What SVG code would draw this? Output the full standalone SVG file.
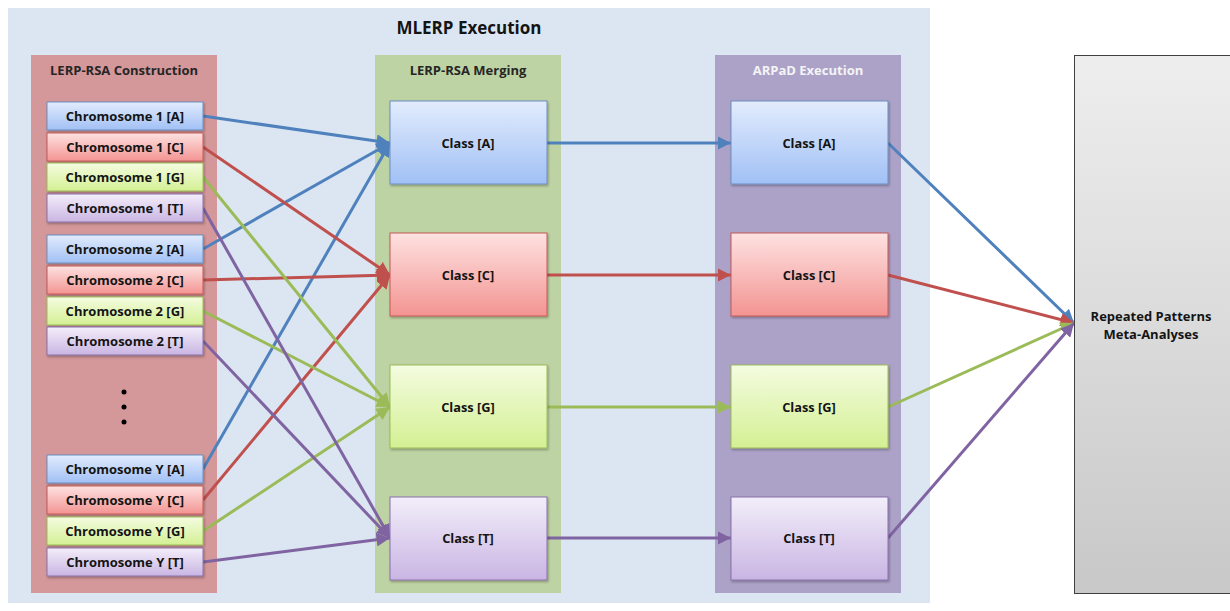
<svg xmlns="http://www.w3.org/2000/svg" width="1230" height="611" viewBox="0 0 1230 611">
  <style>
    text { font-family: "Open Sans", "Liberation Sans", sans-serif; font-weight: bold; text-anchor: middle; dominant-baseline: central; }
    .title { font-size: 17px; fill: #141414; }
    .plabel { font-size: 13px; fill: #262626; }
    .plabel-w { font-size: 13px; fill: #f4f4f4; }
    .chr { font-size: 13px; fill: #141414; }
    .cls { font-size: 12.8px; fill: #141414; }
    .out { font-size: 13px; fill: #141414; }
    .box { stroke-width: 1; filter: url(#shadow); }
    .lA { stroke: #4f81bd; }
    .lC { stroke: #c0504d; }
    .lG { stroke: #9bbb59; }
    .lT { stroke: #8064a2; }
    #connectors line { stroke-width: 3; fill: none; }
  </style>
  <defs>
    <linearGradient id="gA" x1="0" y1="0" x2="0" y2="1"><stop offset="0" stop-color="#e2ecfd"/><stop offset="1" stop-color="#a1c0f5"/></linearGradient>
    <linearGradient id="gC" x1="0" y1="0" x2="0" y2="1"><stop offset="0" stop-color="#fde2e1"/><stop offset="1" stop-color="#f39492"/></linearGradient>
    <linearGradient id="gG" x1="0" y1="0" x2="0" y2="1"><stop offset="0" stop-color="#f4fce0"/><stop offset="1" stop-color="#d4f094"/></linearGradient>
    <linearGradient id="gT" x1="0" y1="0" x2="0" y2="1"><stop offset="0" stop-color="#f3eefa"/><stop offset="1" stop-color="#c9b5e3"/></linearGradient>
    <linearGradient id="gOut" x1="0" y1="0" x2="0" y2="1"><stop offset="0" stop-color="#eeeeee"/><stop offset="1" stop-color="#c8c8c8"/></linearGradient>
    <filter id="shadow" x="-10%" y="-10%" width="125%" height="140%">
      <feDropShadow dx="1" dy="1.5" stdDeviation="1" flood-color="#000" flood-opacity="0.3"/>
    </filter>
    <marker id="mA" viewBox="0 0 10 10" refX="10" refY="5" markerWidth="4.5" markerHeight="4.5" orient="auto" markerUnits="strokeWidth"><path d="M0,0 L10,5 L0,10 z" fill="#4f81bd"/></marker>
    <marker id="mC" viewBox="0 0 10 10" refX="10" refY="5" markerWidth="4.5" markerHeight="4.5" orient="auto" markerUnits="strokeWidth"><path d="M0,0 L10,5 L0,10 z" fill="#c0504d"/></marker>
    <marker id="mG" viewBox="0 0 10 10" refX="10" refY="5" markerWidth="4.5" markerHeight="4.5" orient="auto" markerUnits="strokeWidth"><path d="M0,0 L10,5 L0,10 z" fill="#9bbb59"/></marker>
    <marker id="mT" viewBox="0 0 10 10" refX="10" refY="5" markerWidth="4.5" markerHeight="4.5" orient="auto" markerUnits="strokeWidth"><path d="M0,0 L10,5 L0,10 z" fill="#8064a2"/></marker>
  </defs>

  <rect width="1230" height="611" fill="#ffffff"/>

  <!-- outer frame -->
  <g id="mlerp">
    <rect x="8" y="8" width="922" height="595" fill="#dce6f2"/>
    <text class="title" x="469" y="27">MLERP Execution</text>
  </g>

  <!-- stage panels -->
  <g id="panel-construction">
    <rect x="31" y="55" width="186" height="538" fill="#d4979a"/>
    <text class="plabel" x="124" y="70">LERP-RSA Construction</text>
  </g>
  <g id="panel-merging">
    <rect x="375" y="55" width="186" height="538" fill="#bed3a3"/>
    <text class="plabel" x="468" y="70">LERP-RSA Merging</text>
  </g>
  <g id="panel-arpad">
    <rect x="715" y="55" width="186" height="538" fill="#aca2c8"/>
    <text class="plabel-w" x="808" y="70">ARPaD Execution</text>
  </g>

  <!-- connectors -->
  <g id="connectors">
    <!-- chromosome to class -->
    <line class="lA" x1="203" y1="116" x2="390" y2="143" marker-end="url(#mA)"/>
    <line class="lA" x1="203" y1="249" x2="390" y2="143" marker-end="url(#mA)"/>
    <line class="lA" x1="203" y1="469" x2="390" y2="143" marker-end="url(#mA)"/>
    <line class="lC" x1="203" y1="147" x2="390" y2="275" marker-end="url(#mC)"/>
    <line class="lC" x1="203" y1="280" x2="390" y2="275" marker-end="url(#mC)"/>
    <line class="lC" x1="203" y1="500" x2="390" y2="275" marker-end="url(#mC)"/>
    <line class="lG" x1="203" y1="177" x2="390" y2="407" marker-end="url(#mG)"/>
    <line class="lG" x1="203" y1="311" x2="390" y2="407" marker-end="url(#mG)"/>
    <line class="lG" x1="203" y1="531" x2="390" y2="407" marker-end="url(#mG)"/>
    <line class="lT" x1="203" y1="208" x2="390" y2="538" marker-end="url(#mT)"/>
    <line class="lT" x1="203" y1="341" x2="390" y2="538" marker-end="url(#mT)"/>
    <line class="lT" x1="203" y1="562" x2="390" y2="538" marker-end="url(#mT)"/>
    <!-- merged class to ARPaD -->
    <line class="lA" x1="547" y1="143" x2="731" y2="143" marker-end="url(#mA)"/>
    <line class="lC" x1="547" y1="275" x2="731" y2="275" marker-end="url(#mC)"/>
    <line class="lG" x1="547" y1="407" x2="731" y2="407" marker-end="url(#mG)"/>
    <line class="lT" x1="547" y1="538" x2="731" y2="538" marker-end="url(#mT)"/>
    <!-- ARPaD to meta-analyses -->
    <line class="lA" x1="888" y1="143" x2="1074" y2="323" marker-end="url(#mA)"/>
    <line class="lC" x1="888" y1="275" x2="1074" y2="323" marker-end="url(#mC)"/>
    <line class="lG" x1="888" y1="407" x2="1074" y2="323" marker-end="url(#mG)"/>
    <line class="lT" x1="888" y1="538" x2="1074" y2="323" marker-end="url(#mT)"/>
  </g>

  <!-- chromosome nodes -->
  <g id="chr1A"><rect class="box" x="47" y="102" width="156" height="28" fill="url(#gA)" stroke="#6d8fc0"/><text class="chr" x="125" y="116">Chromosome 1 [A]</text></g>
  <g id="chr1C"><rect class="box" x="47" y="133" width="156" height="28" fill="url(#gC)" stroke="#c45a57"/><text class="chr" x="125" y="147">Chromosome 1 [C]</text></g>
  <g id="chr1G"><rect class="box" x="47" y="163" width="156" height="28" fill="url(#gG)" stroke="#9bbb59"/><text class="chr" x="125" y="177">Chromosome 1 [G]</text></g>
  <g id="chr1T"><rect class="box" x="47" y="194" width="156" height="28" fill="url(#gT)" stroke="#8a70ab"/><text class="chr" x="125" y="208">Chromosome 1 [T]</text></g>
  <g id="chr2A"><rect class="box" x="47" y="235" width="156" height="28" fill="url(#gA)" stroke="#6d8fc0"/><text class="chr" x="125" y="249">Chromosome 2 [A]</text></g>
  <g id="chr2C"><rect class="box" x="47" y="266" width="156" height="28" fill="url(#gC)" stroke="#c45a57"/><text class="chr" x="125" y="280">Chromosome 2 [C]</text></g>
  <g id="chr2G"><rect class="box" x="47" y="297" width="156" height="28" fill="url(#gG)" stroke="#9bbb59"/><text class="chr" x="125" y="311">Chromosome 2 [G]</text></g>
  <g id="chr2T"><rect class="box" x="47" y="327" width="156" height="28" fill="url(#gT)" stroke="#8a70ab"/><text class="chr" x="125" y="341">Chromosome 2 [T]</text></g>

  <g id="ellipsis" fill="#000">
    <circle cx="124" cy="392" r="2.5"/>
    <circle cx="124" cy="407" r="2.5"/>
    <circle cx="124" cy="422" r="2.5"/>
  </g>

  <g id="chrYA"><rect class="box" x="47" y="455" width="156" height="28" fill="url(#gA)" stroke="#6d8fc0"/><text class="chr" x="125" y="469">Chromosome Y [A]</text></g>
  <g id="chrYC"><rect class="box" x="47" y="486" width="156" height="28" fill="url(#gC)" stroke="#c45a57"/><text class="chr" x="125" y="500">Chromosome Y [C]</text></g>
  <g id="chrYG"><rect class="box" x="47" y="517" width="156" height="28" fill="url(#gG)" stroke="#9bbb59"/><text class="chr" x="125" y="531">Chromosome Y [G]</text></g>
  <g id="chrYT"><rect class="box" x="47" y="548" width="156" height="28" fill="url(#gT)" stroke="#8a70ab"/><text class="chr" x="125" y="562">Chromosome Y [T]</text></g>

  <!-- merged class nodes -->
  <g id="mergeA"><rect class="box" x="390" y="101" width="157" height="83" fill="url(#gA)" stroke="#6d8fc0"/><text class="cls" x="468" y="143">Class [A]</text></g>
  <g id="mergeC"><rect class="box" x="390" y="233" width="157" height="83" fill="url(#gC)" stroke="#c45a57"/><text class="cls" x="468" y="275">Class [C]</text></g>
  <g id="mergeG"><rect class="box" x="390" y="365" width="157" height="83" fill="url(#gG)" stroke="#9bbb59"/><text class="cls" x="468" y="407">Class [G]</text></g>
  <g id="mergeT"><rect class="box" x="390" y="497" width="157" height="83" fill="url(#gT)" stroke="#8a70ab"/><text class="cls" x="468" y="538">Class [T]</text></g>

  <!-- ARPaD class nodes -->
  <g id="arpadA"><rect class="box" x="731" y="101" width="157" height="83" fill="url(#gA)" stroke="#6d8fc0"/><text class="cls" x="809" y="143">Class [A]</text></g>
  <g id="arpadC"><rect class="box" x="731" y="233" width="157" height="83" fill="url(#gC)" stroke="#c45a57"/><text class="cls" x="809" y="275">Class [C]</text></g>
  <g id="arpadG"><rect class="box" x="731" y="365" width="157" height="83" fill="url(#gG)" stroke="#9bbb59"/><text class="cls" x="809" y="407">Class [G]</text></g>
  <g id="arpadT"><rect class="box" x="731" y="497" width="157" height="83" fill="url(#gT)" stroke="#8a70ab"/><text class="cls" x="809" y="538">Class [T]</text></g>

  <!-- meta-analyses node -->
  <g id="meta">
    <rect x="1074.5" y="55.5" width="160" height="538" fill="url(#gOut)" stroke="#404040"/>
    <text class="out" x="1151" y="316">Repeated Patterns</text>
    <text class="out" x="1151" y="334">Meta-Analyses</text>
  </g>
</svg>
